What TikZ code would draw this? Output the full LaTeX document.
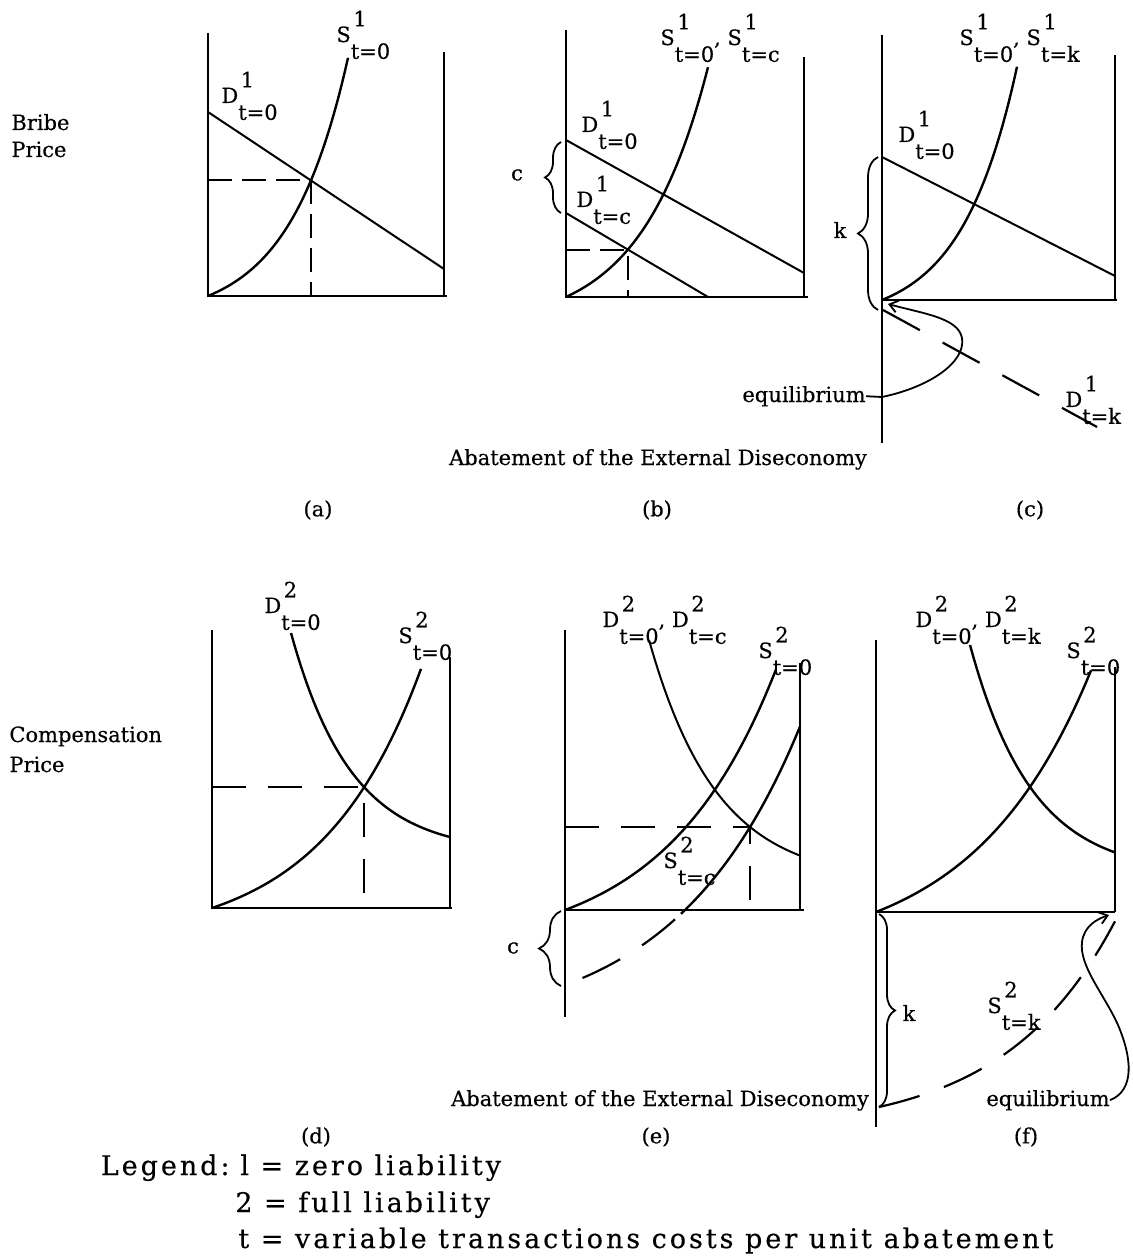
\documentclass[tikz,border=0pt]{standalone}
\usepackage{fontspec}
\setmainfont{DejaVu Serif}[FakeBold=0.4]
\newfontfamily\legendfont{DejaVu Serif}[LetterSpace=11, FakeBold=0.4]
\usetikzlibrary{intersections,decorations.pathreplacing,arrows.meta}

%% curve label: letter, raised index, lowered index
\newcommand{\crv}[3]{#1\rlap{\hspace{0.12em}\raisebox{0.75em}{#2}}\raisebox{-0.8em}{#3}}

\tikzset{
  axis/.style={line width=1.4pt},
  curve/.style={line width=1.2pt},
  thin curve/.style={line width=1pt},
  guide/.style={line width=1pt, dash pattern=on 12pt off 5pt},
  long guide/.style={line width=1pt, dash pattern=on 17pt off 11pt},
  shifted/.style={line width=1.1pt, dash pattern=on 21pt off 13pt},
  cbrace/.style={decorate, decoration={brace, amplitude=#1}, line width=0.9pt},
  pointer/.style={line width=0.9pt, -{Straight Barb[length=4pt, width=6pt]}},
  lbl/.style={font=\fontsize{10.5}{12}\selectfont, inner sep=0pt, anchor=base west},
  tag/.style={font=\fontsize{10.5}{12}\selectfont, inner sep=0pt},
  legend/.style={font=\legendfont\fontsize{13.5}{16}\selectfont, inner sep=0pt, anchor=base west},
}

\begin{document}
\begin{tikzpicture}[x=0.5pt, y=-0.5pt]
\useasboundingbox (0,0) rectangle (1132,1256);

%% side titles
\node[tag, anchor=base west] (bribe) at (11,130) {Bribe};
\node[tag, anchor=base west] (bprice) at (11,157) {Price};
\node[tag, anchor=base west] (comp) at (9,742) {Compensation};
\node[tag, anchor=base west] (cprice) at (9,772) {Price};

%% ---- (a)
\coordinate (oa) at (208,296);
\draw[axis] (208,33) -- (oa) -- (447,296);
\draw[axis] (444,52) -- (444,296);
\draw[thin curve, name path=Da] (208,112) -- (444,269);
\draw[curve, name path=Sa] plot[domain=208:348, samples=50] (\x,{296-24.3*(exp(0.017*(\x-208))-1)});
\path[name intersections={of=Sa and Da, by=Ea}];
\draw[guide] (oa |- Ea) -- (Ea) -- (Ea |- oa);
\node[lbl] (Sa-lbl) at (336,42) {\crv{S}{1}{t=0}};
\node[lbl] (Da-lbl) at (221,103) {\crv{D}{1}{t=0}};

%% ---- (b)
\coordinate (ob) at (566,297);
\draw[axis] (566,30) -- (ob) -- (808,297);
\draw[axis] (804,57) -- (804,297);
\draw[thin curve] (566,140) -- (804,273);
\draw[thin curve, name path=Dbc] (566,213) -- (708,297);
\draw[curve, name path=Sb] plot[domain=566:708, samples=50] (\x,{297-31*(exp(0.015*(\x-566))-1)});
\path[name intersections={of=Sb and Dbc, by=Eb}];
\draw[guide] (ob |- Eb) -- (Eb) -- (Eb |- ob);
\draw[cbrace=8pt] (561,213) -- (561,142);
\node[tag] (cb) at (517,175) {c};
\node[lbl] (Sb-lbl) at (660,45) {\crv{S}{1}{t=0}, \crv{S}{1}{t=c}};
\node[lbl] (Db-lbl) at (581,132) {\crv{D}{1}{t=0}};
\node[lbl] (Dbc-lbl) at (576,207) {\crv{D}{1}{t=c}};

%% ---- (c)
\coordinate (oc) at (882,300);
\draw[axis] (882,35) -- (882,443);
\draw[axis] (oc) -- (1117,300);
\draw[axis] (1115,55) -- (1115,300);
\draw[thin curve] (882,157) -- (1115,276);
\draw[curve] plot[domain=882:1017, samples=50] (\x,{300-22.5*(exp(0.018*(\x-882))-1)});
\draw[shifted] (883,310) -- (1097,427);
\draw[cbrace=10pt] (878,310) -- (878,157);
\node[tag] (kc) at (840,230) {k};
\node[lbl] (Sc-lbl) at (959,45) {\crv{S}{1}{t=0}, \crv{S}{1}{t=k}};
\node[lbl] (Dc-lbl) at (898,142) {\crv{D}{1}{t=0}};
\node[lbl] (Dck-lbl) at (1065,407) {\crv{D}{1}{t=k}};
\node[tag, anchor=base east] (eqc) at (866,402) {equilibrium};
\draw[pointer] (eqc.east) -- (882,397) .. controls (930,387) and (966,362) .. (962,338)
  .. controls (958,318) and (925,314) .. (888,304);

\node[tag, anchor=base] (abate1) at (658,465) {Abatement of the External Diseconomy};
\node[tag] (pa) at (318,510) {(a)};
\node[tag] (pb) at (657,510) {(b)};
\node[tag] (pc) at (1030,510) {(c)};

%% ---- (d)
\coordinate (od) at (212,908);
\draw[axis] (212,630) -- (od) -- (452,908);
\draw[axis] (450,657) -- (450,908);
\draw[curve, name path=Dd] plot[domain=291:450, samples=50] (\x,{633+220*(1-exp(-0.0165*(\x-291)))});
\draw[curve, name path=Sd] plot[domain=212:421, samples=50] (\x,{908-33.8*(exp(0.01*(\x-212))-1)});
\path[name intersections={of=Sd and Dd, by=Ed}];
\draw[long guide] (od |- Ed) -- (Ed) -- (Ed |- od);
\node[lbl] (Dd-lbl) at (264,613) {\crv{D}{2}{t=0}};
\node[lbl] (Sd-lbl) at (398,643) {\crv{S}{2}{t=0}};

%% ---- (e)
\coordinate (oe) at (565,910);
\draw[axis] (565,630) -- (565,1017);
\draw[axis] (oe) -- (804,910);
\draw[axis] (800,663) -- (800,910);
\draw[thin curve, name path=De] plot[domain=649:800, samples=50] (\x,{640+242*(1-exp(-0.01466*(\x-649)))});
\draw[curve] plot[domain=565:776, samples=50] (\x,{910-41.4*(exp(0.0091*(\x-565))-1)});
\draw[curve, name path=Sec] plot[domain=681:800, samples=40] (\x,{985-46.6*(exp(0.008*(\x-565))-1)});
\draw[shifted] plot[domain=675:565, samples=30] (\x,{985-46.6*(exp(0.008*(\x-565))-1)});
\path[name intersections={of=Sec and De, by=Ee}];
\draw[long guide] (oe |- Ee) -- (Ee) -- (Ee |- oe);
\draw[cbrace=11pt] (561,986) -- (561,911);
\node[tag] (ce) at (513,948) {c};
\node[lbl] (De-lbl) at (602,627) {\crv{D}{2}{t=0}, \crv{D}{2}{t=c}};
\node[lbl] (Se-lbl) at (758,658) {\crv{S}{2}{t=0}};
\node[lbl] (Sec-lbl) at (663,868) {\crv{S}{2}{t=c}};

%% ---- (f)
\coordinate (of) at (876,912);
\draw[axis] (876,640) -- (876,1127);
\draw[axis] (of) -- (1115,912);
\draw[axis] (1115,667) -- (1115,912);
\draw[curve] plot[domain=970:1115, samples=50] (\x,{645+230*(1-exp(-0.016*(\x-970)))});
\draw[curve] plot[domain=876:1091, samples=50] (\x,{912-46.3*(exp(0.0085*(\x-876))-1)});
\draw[shifted] plot[domain=879:1115, samples=50] (\x,{1107-25.2*(exp(0.009*(\x-879))-1)});
\draw[cbrace=8pt] (879,914) -- (879,1107);
\node[tag] (kf) at (909,1013) {k};
\node[lbl] (Df-lbl) at (915,627) {\crv{D}{2}{t=0}, \crv{D}{2}{t=k}};
\node[lbl] (Sf-lbl) at (1066,658) {\crv{S}{2}{t=0}};
\node[lbl] (Sfk-lbl) at (987,1013) {\crv{S}{2}{t=k}};
\node[tag, anchor=base west] (eqf) at (986,1106) {equilibrium};
\draw[pointer] (eqf.east) .. controls (1135,1090) and (1132,1058) .. (1118,1025)
  .. controls (1104,994) and (1079,966) .. (1082,942)
  .. controls (1084,926) and (1097,919) .. (1109,915);

\node[tag, anchor=base] (abate2) at (660,1106) {Abatement of the External Diseconomy};
\node[tag] (pd) at (316,1137) {(d)};
\node[tag] (pe) at (656,1137) {(e)};
\node[tag] (pf) at (1026,1137) {(f)};

%% legend
\node[legend, anchor=base east] (leg) at (230,1175) {Legend:};
\node[legend] (leg1) at (240,1175) {l = zero liability};
\node[legend] (leg2) at (235,1212) {2 = full liability};
\node[legend] (leg3) at (238,1248) {t = variable transactions costs per unit abatement};
\end{tikzpicture}
\end{document}
